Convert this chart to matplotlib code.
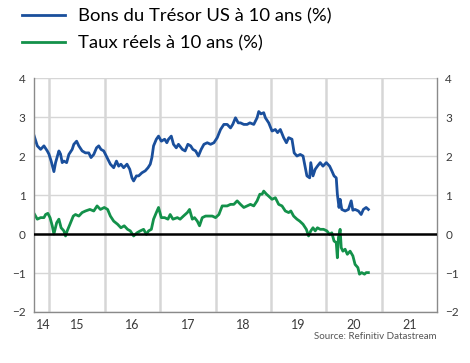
import matplotlib
matplotlib.use('Agg')
import matplotlib.pyplot as plt

# Bons du Trésor US à 10 ans (%)
t_bond = [2014.72, 2014.78, 2014.84, 2014.90, 2014.96, 2014.99, 2015.03, 2015.08, 2015.11, 2015.17,
          2015.20, 2015.23, 2015.26, 2015.31, 2015.35, 2015.41, 2015.44, 2015.49, 2015.53, 2015.59,
          2015.65, 2015.71, 2015.75, 2015.80, 2015.85, 2015.89, 2015.93, 2015.98, 2016.04, 2016.10,
          2016.16, 2016.21, 2016.25, 2016.29, 2016.34, 2016.40, 2016.45, 2016.49, 2016.52, 2016.57,
          2016.61, 2016.67, 2016.73, 2016.78, 2016.82, 2016.85, 2016.88, 2016.93, 2016.97, 2017.02,
          2017.08, 2017.12, 2017.15, 2017.20, 2017.24, 2017.29, 2017.33, 2017.40, 2017.45, 2017.50,
          2017.55, 2017.59, 2017.64, 2017.69, 2017.74, 2017.79, 2017.85, 2017.91, 2017.97, 2018.03,
          2018.09, 2018.15, 2018.21, 2018.27, 2018.31, 2018.36, 2018.41, 2018.45, 2018.51, 2018.57,
          2018.62, 2018.69, 2018.75, 2018.78, 2018.82, 2018.87, 2018.90, 2018.96, 2019.02, 2019.08,
          2019.12, 2019.17, 2019.23, 2019.28, 2019.32, 2019.38, 2019.42, 2019.47, 2019.53, 2019.58,
          2019.62, 2019.65, 2019.70, 2019.72, 2019.76, 2019.80, 2019.84, 2019.89, 2019.94, 2020.00,
          2020.06, 2020.10, 2020.14, 2020.18, 2020.20, 2020.23, 2020.25, 2020.28, 2020.34, 2020.40,
          2020.45, 2020.48, 2020.52, 2020.58, 2020.63, 2020.67, 2020.72, 2020.76]
bond = [2.53, 2.26, 2.17, 2.26, 2.13, 2.05, 1.87, 1.60, 1.83, 2.13,
        2.05, 1.83, 1.87, 1.83, 2.04, 2.17, 2.30, 2.38, 2.26, 2.13,
        2.08, 2.08, 1.96, 2.04, 2.21, 2.26, 2.17, 2.13, 1.96, 1.79,
        1.70, 1.87, 1.74, 1.79, 1.70, 1.79, 1.66, 1.44, 1.36, 1.49,
        1.49, 1.57, 1.62, 1.70, 1.79, 1.96, 2.26, 2.43, 2.51, 2.38,
        2.43, 2.34, 2.43, 2.51, 2.30, 2.21, 2.30, 2.17, 2.13, 2.30,
        2.26, 2.17, 2.13, 2.00, 2.17, 2.30, 2.34, 2.30, 2.34, 2.47,
        2.68, 2.81, 2.81, 2.72, 2.81, 2.98, 2.85, 2.85, 2.81, 2.81,
        2.85, 2.81, 2.98, 3.14, 3.08, 3.11, 2.98, 2.85, 2.64, 2.68,
        2.60, 2.68, 2.47, 2.34, 2.47, 2.43, 2.08, 2.00, 2.04, 2.00,
        1.70, 1.49, 1.44, 1.83, 1.49, 1.66, 1.74, 1.83, 1.74, 1.83,
        1.74, 1.62, 1.49, 1.44, 1.02, 0.68, 0.89, 0.63, 0.59, 0.63,
        0.85, 0.61, 0.63, 0.59, 0.50, 0.63, 0.68, 0.63]

# Taux réels à 10 ans (%)
t_real = [2014.72, 2014.78, 2014.84, 2014.90, 2014.93, 2014.97, 2015.01, 2015.05, 2015.08, 2015.13,
          2015.17, 2015.21, 2015.26, 2015.29, 2015.32, 2015.37, 2015.43, 2015.47, 2015.53, 2015.59,
          2015.65, 2015.73, 2015.80, 2015.86, 2015.92, 2015.99, 2016.05, 2016.10, 2016.16, 2016.23,
          2016.29, 2016.35, 2016.41, 2016.46, 2016.52, 2016.58, 2016.64, 2016.70, 2016.75, 2016.79,
          2016.84, 2016.88, 2016.93, 2016.97, 2017.02, 2017.08, 2017.14, 2017.18, 2017.23, 2017.31,
          2017.36, 2017.42, 2017.49, 2017.53, 2017.58, 2017.62, 2017.67, 2017.71, 2017.76, 2017.82,
          2017.88, 2017.94, 2018.00, 2018.06, 2018.12, 2018.21, 2018.27, 2018.33, 2018.39, 2018.45,
          2018.51, 2018.57, 2018.63, 2018.69, 2018.75, 2018.80, 2018.84, 2018.87, 2018.92, 2018.96,
          2019.02, 2019.08, 2019.14, 2019.20, 2019.26, 2019.32, 2019.36, 2019.41, 2019.47, 2019.52,
          2019.58, 2019.64, 2019.68, 2019.72, 2019.76, 2019.80, 2019.84, 2019.89, 2019.95, 2020.01,
          2020.06, 2020.10, 2020.14, 2020.18, 2020.20, 2020.22, 2020.25, 2020.27, 2020.30, 2020.34,
          2020.38, 2020.43, 2020.48, 2020.52, 2020.57, 2020.60, 2020.64, 2020.69, 2020.72, 2020.76]
real = [0.53, 0.38, 0.42, 0.42, 0.50, 0.53, 0.42, 0.21, 0.00, 0.29,
        0.38, 0.16, 0.08, -0.05, 0.08, 0.25, 0.46, 0.50, 0.46, 0.55,
        0.59, 0.63, 0.59, 0.72, 0.63, 0.68, 0.63, 0.46, 0.33, 0.25,
        0.16, 0.21, 0.12, 0.08, -0.05, 0.03, 0.08, 0.12, -0.01, 0.08,
        0.12, 0.38, 0.55, 0.68, 0.42, 0.42, 0.38, 0.50, 0.38, 0.42,
        0.38, 0.46, 0.55, 0.63, 0.38, 0.42, 0.33, 0.21, 0.42, 0.46,
        0.46, 0.46, 0.42, 0.50, 0.72, 0.72, 0.76, 0.76, 0.85, 0.76,
        0.68, 0.72, 0.76, 0.72, 0.85, 1.02, 1.02, 1.10, 1.02, 0.97,
        0.89, 0.93, 0.76, 0.72, 0.59, 0.55, 0.59, 0.46, 0.38, 0.33,
        0.25, 0.12, -0.05, 0.08, 0.16, 0.08, 0.16, 0.12, 0.12, 0.08,
        -0.01, 0.03, -0.18, -0.22, -0.61, -0.09, 0.12, -0.35, -0.44, -0.39,
        -0.52, -0.44, -0.56, -0.78, -0.86, -1.03, -0.99, -1.03, -0.99, -0.99]

year_labels = ['14', '15', '16', '17', '18', '19', '20', '21']
label_pos = [2014.89, 2015.5, 2016.5, 2017.5, 2018.5, 2019.5, 2020.5, 2021.5]
year_lines = [2015, 2016, 2017, 2018, 2019, 2020, 2021]

plt.rcParams['font.family'] = ['Lato', 'DejaVu Sans']

fig = plt.figure(figsize=(4.7, 3.63), dpi=100)
ax = fig.add_axes([0.0723, 0.1405, 0.8575, 0.6446])

blue = '#1a4f9c'
green = '#13914a'

ax.plot(t_bond, bond, color=blue, lw=2.0, label='Bons du Trésor US à 10 ans (%)')
ax.plot(t_real, real, color=green, lw=2.0, label='Taux réels à 10 ans (%)')
ax.axhline(0, color='black', lw=1.8, zorder=3)

ax.set_xlim(2014.72, 2022.0)
ax.set_ylim(-2, 4)
ax.set_yticks([-2, -1, 0, 1, 2, 3, 4])

ax.set_xticks(year_lines)
ax.set_xticklabels([])
ax.set_xticks(label_pos, minor=True)
ax.set_xticklabels(year_labels, minor=True)
ax.tick_params(axis='x', which='both', length=0)
ax.tick_params(axis='x', which='minor', labelsize=9, colors='#3a3a3a', pad=5)
ax.tick_params(axis='y', length=0, labelsize=8.5, colors='#3a3a3a', pad=6,
               labelleft=True, labelright=True)

ax.grid(axis='x', which='major', color='#d6d6d6', lw=1.8)
ax.grid(axis='y', color='#d6d6d6', lw=1.0)
ax.set_axisbelow(True)

ax.spines['top'].set_visible(False)
for s in ['left', 'right', 'bottom']:
    ax.spines[s].set_color('#8a8a8a')
    ax.spines[s].set_linewidth(1.0)

fig.legend(loc='upper left', bbox_to_anchor=(0.03, 1.0), frameon=False,
           fontsize=13.3, handlelength=2.3, handletextpad=0.7, labelspacing=0.6,
           borderaxespad=0.05)

fig.text(0.928, 0.072, 'Source: Refinitiv Datastream', ha='right', va='center',
         fontsize=7, color='#555555')

plt.savefig('out.png', dpi=100)
